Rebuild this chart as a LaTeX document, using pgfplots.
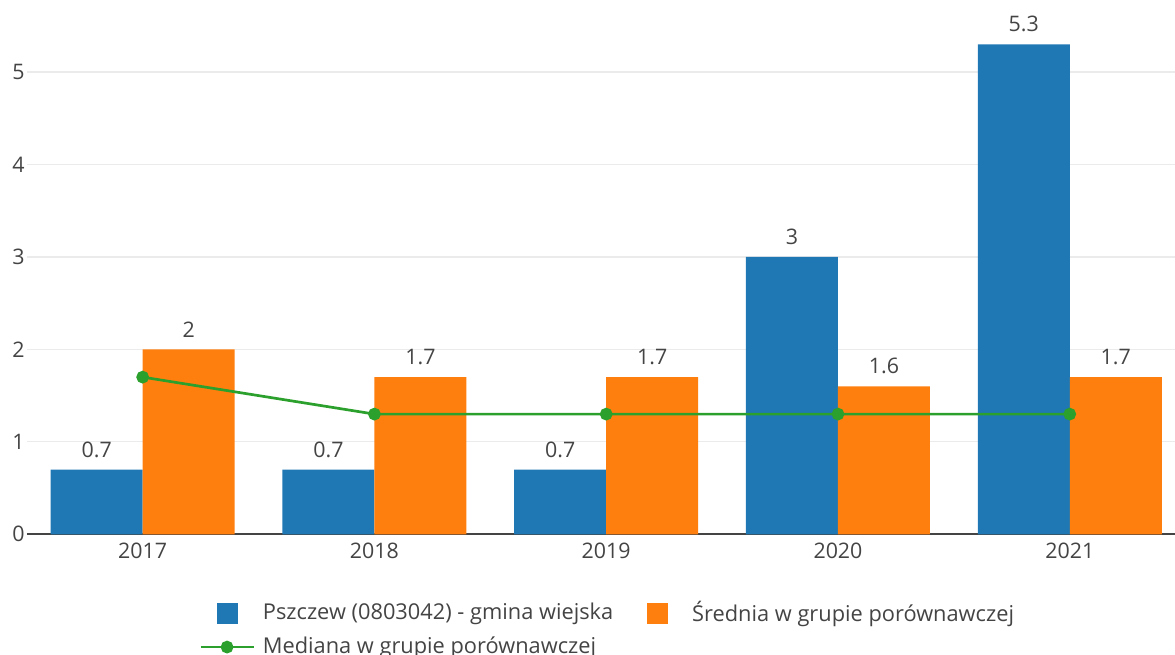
\documentclass[border=0pt]{standalone}
\usepackage{fontspec}
\setmainfont{Open Sans}
\usepackage{pgfplots}
\pgfplotsset{compat=1.18}
\definecolor{cblue}{HTML}{1F77B4}
\definecolor{corange}{HTML}{FF7F0E}
\definecolor{cgreen}{HTML}{2CA02C}
\definecolor{ctext}{HTML}{444444}
\definecolor{cgrid}{HTML}{EBEBEB}
\begin{document}
\fontsize{21.4pt}{25pt}\selectfont
\begin{tikzpicture}
\useasboundingbox (0,0) rectangle (1175pt,655pt);
\begin{axis}[
  at={(26.8pt,120.7pt)}, anchor=south west,
  scale only axis, width=1148.2pt, height=534.3pt,
  xmin=-0.5, xmax=4.454, ymin=0, ymax=5.779,
  axis line style={draw=none},
  /pgf/number format/assume math mode=true,
  font=\fontsize{21.4pt}{25pt}\selectfont,
  xtick={0,1,2,3,4}, xticklabels={2017,2018,2019,2020,2021},
  ytick={0,1,2,3,4,5},
  major tick length=0pt,
  ymajorgrids, major grid style={draw=cgrid, line width=1.2pt},
  extra y ticks={0}, extra y tick labels={},
  extra y tick style={ymajorgrids, major grid style={draw=ctext, line width=1.6pt}},
  tick label style={text=ctext, inner sep=0pt},
  yticklabel style={anchor=east, xshift=-2pt},
  xticklabel style={anchor=north, yshift=-8pt},
  nodes near coords style={text=ctext, inner sep=0pt, anchor=south, yshift=12pt},
  legend columns=2,
  legend style={at={(0.15,-0.1255)}, anchor=north west, draw=none, fill=none,
    inner sep=0pt, row sep=11.5pt, text=ctext,
    nodes={inner sep=0pt, text=ctext},
    /tikz/every even column/.append style={column sep=18pt},
    /tikz/every odd column/.append style={column sep=8pt},
    font=\fontsize{21.8pt}{25pt}\selectfont},
  legend cell align=left,
  clip=false,
]
\addplot[ybar, fill=cblue, draw=none, bar width=92pt, bar shift=-46pt, nodes near coords,
  every node near coord/.append style={xshift=-46pt},
  legend image code/.code={\path[draw=none,fill=none] (0pt,-10.5pt) rectangle (53pt,10.5pt); \fill[cblue] (16pt,-10.5pt) rectangle (37pt,10.5pt);}]
  coordinates {(0,0.7) (1,0.7) (2,0.7) (3,3) (4,5.3)};
\addlegendentry{Pszczew (0803042) - gmina wiejska}
\addplot[ybar, fill=corange, draw=none, bar width=92pt, bar shift=46pt, nodes near coords,
  every node near coord/.append style={xshift=46pt},
  legend image code/.code={\path[draw=none,fill=none] (0pt,-10.5pt) rectangle (53pt,10.5pt); \fill[corange] (16pt,-10.5pt) rectangle (37pt,10.5pt);}]
  coordinates {(0,2) (1,1.7) (2,1.7) (3,1.6) (4,1.7)};
\addlegendentry{Średnia w grupie porównawczej}
\addplot[cgreen, line width=2.7pt, mark=*, mark size=5pt, mark options={fill=cgreen, draw=none},
  legend image code/.code={\path[draw=none,fill=none] (0pt,-10.5pt) rectangle (53pt,10.5pt); \draw[cgreen, line width=2.7pt] (0pt,0pt) -- (53pt,0pt); \fill[cgreen] (26.5pt,0pt) circle (5pt);}]
  coordinates {(0,1.7) (1,1.3) (2,1.3) (3,1.3) (4,1.3)};
\addlegendentry{Mediana w grupie porównawczej}
\end{axis}
\end{tikzpicture}
\end{document}
